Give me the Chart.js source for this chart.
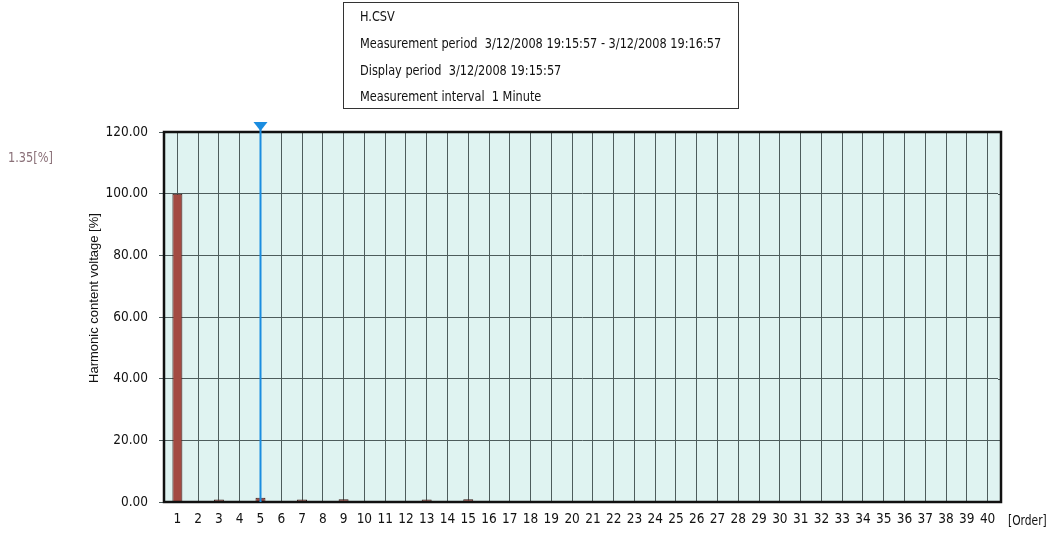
<!DOCTYPE html>
<html>
<head>
<meta charset="utf-8">
<title>Harmonic content voltage</title>
<script src="https://cdn.jsdelivr.net/npm/chart.js@4/dist/chart.umd.min.js"></script>
<style>
  html, body { margin: 0; padding: 0; background: #ffffff; }
  #wrap { width: 1052px; height: 533px; }
</style>
</head>
<body>
<div id="wrap"><canvas id="c" width="1052" height="533"></canvas></div>
<script>
// Harmonic orders 1..40
const orders = ['1','2','3','4','5','6','7','8','9','10','11','12','13','14','15','16','17','18','19','20',
                '21','22','23','24','25','26','27','28','29','30','31','32','33','34','35','36','37','38','39','40'];
// Harmonic content voltage per order [%]
const harmonicPct = [100, 0.05, 0.8, 0.05, 1.35, 0.05, 0.8, 0.05, 0.9, 0.05,
                     0.05, 0.05, 0.8, 0.05, 0.9, 0.05, 0.05, 0.05, 0.05, 0.05,
                     0.05, 0.05, 0.05, 0.05, 0.05, 0.05, 0.05, 0.05, 0.05, 0.05,
                     0.05, 0.05, 0.05, 0.05, 0.05, 0.05, 0.05, 0.05, 0.05, 0.05];
// Y axis ticks
const yTicks = [0, 20, 40, 60, 80, 100, 120];
// Cursor position (order) and its readout
const cursorOrder = '5';
const cursorReadout = '1.35[%]';
// Header box lines
const headerLines = [
  'H.CSV',
  'Measurement period  3/12/2008 19:15:57 - 3/12/2008 19:16:57',
  'Display period  3/12/2008 19:15:57',
  'Measurement interval  1 Minute'
];
const yTitle = 'Harmonic content voltage [%]';
const xUnit = '[Order]';

const NARROW = "'Liberation Sans Narrow', 'Arial Narrow', 'DejaVu Sans Condensed', sans-serif";
const REGULAR = "'Liberation Sans', Arial, sans-serif";
const GRID = '#4d5c5c';
// frame drawn slightly outside the category area
const FRAME_PAD = 3;

// draw text squeezed horizontally (narrow face look)
function narrowText(ctx, text, x, y, sx) {
  ctx.save();
  ctx.translate(x, y);
  ctx.scale(sx, 1);
  ctx.fillText(text, 0, 0);
  ctx.restore();
}

const plotDecor = {
  id: 'plotDecor',
  beforeDraw(chart) {
    const a = chart.chartArea, ctx = chart.ctx;
    ctx.save();
    ctx.fillStyle = '#ffffff';
    ctx.fillRect(0, 0, chart.width, chart.height);
    ctx.fillStyle = '#dff3f1';
    ctx.fillRect(a.left - FRAME_PAD, a.top, a.right - a.left + 2 * FRAME_PAD, a.bottom - a.top);
    ctx.restore();
  },
  beforeDatasetsDraw(chart) {
    // extend horizontal grid lines to the frame edges
    const a = chart.chartArea, ctx = chart.ctx, ys = chart.scales.y;
    ctx.save();
    ctx.strokeStyle = GRID;
    ctx.lineWidth = 1;
    yTicks.forEach(v => {
      const py = Math.round(ys.getPixelForValue(v)) + 0.5;
      ctx.beginPath();
      ctx.moveTo(a.right, py);
      ctx.lineTo(a.right + FRAME_PAD, py);
      ctx.stroke();
    });
    ctx.restore();
  },
  afterDatasetsDraw(chart) {
    const a = chart.chartArea, ctx = chart.ctx;
    const xs = chart.scales.x;
    ctx.save();
    // plot frame
    ctx.strokeStyle = '#111111';
    ctx.lineWidth = 2.5;
    ctx.strokeRect(a.left - FRAME_PAD, a.top, a.right - a.left + 2 * FRAME_PAD, a.bottom - a.top);

    // cursor line with marker
    const cx = Math.round(xs.getPixelForValue(orders.indexOf(cursorOrder))) + 0.5;
    ctx.strokeStyle = '#1a8de0';
    ctx.lineWidth = 2;
    ctx.beginPath();
    ctx.moveTo(cx, a.top - 4);
    ctx.lineTo(cx, a.bottom);
    ctx.stroke();
    ctx.fillStyle = '#1a8de0';
    ctx.beginPath();
    ctx.moveTo(cx - 7, a.top - 10);
    ctx.lineTo(cx + 7, a.top - 10);
    ctx.lineTo(cx, a.top - 1);
    ctx.closePath();
    ctx.fill();
    ctx.restore();
  },
  afterDraw(chart) {
    const ctx = chart.ctx;
    ctx.save();
    ctx.textAlign = 'left';
    ctx.textBaseline = 'middle';

    // cursor readout
    ctx.fillStyle = '#8a7078';
    ctx.font = '14px ' + NARROW;
    narrowText(ctx, cursorReadout, 8, 158, 0.9);

    // y axis title
    ctx.fillStyle = '#111111';
    ctx.font = '13px ' + REGULAR;
    ctx.save();
    ctx.translate(94, 298);
    ctx.rotate(-Math.PI / 2);
    ctx.textAlign = 'center';
    ctx.fillText(yTitle, 0, 0);
    ctx.restore();

    // x unit label
    ctx.font = '14px ' + NARROW;
    narrowText(ctx, xUnit, 1008, 521, 0.85);

    // header box
    ctx.fillStyle = '#ffffff';
    ctx.fillRect(343.5, 2.5, 395, 106);
    ctx.strokeStyle = '#333333';
    ctx.lineWidth = 1;
    ctx.strokeRect(343.5, 2.5, 395, 106);
    ctx.fillStyle = '#111111';
    ctx.font = '14px ' + NARROW;
    const ys = [17, 44, 71, 97];
    headerLines.forEach((t, i) => narrowText(ctx, t, 360, ys[i], 0.9));
    ctx.restore();
  }
};

new Chart(document.getElementById('c'), {
  type: 'bar',
  data: {
    labels: orders,
    datasets: [{
      data: harmonicPct,
      backgroundColor: '#a34a42',
      borderColor: '#3a1c18',
      borderWidth: 1,
      categoryPercentage: 1,
      barPercentage: 0.48,
      minBarLength: 1
    }]
  },
  options: {
    responsive: false,
    animation: false,
    devicePixelRatio: 1,
    layout: { padding: { left: 0, top: 132, right: 54, bottom: 0 } },
    plugins: { legend: { display: false }, tooltip: { enabled: false }, title: { display: false } },
    scales: {
      x: {
        offset: true,
        grid: { offset: false, color: GRID, lineWidth: 1, drawTicks: false },
        border: { display: false },
        ticks: { color: '#111111', font: { family: NARROW, size: 13.5 }, padding: 9, maxRotation: 0, autoSkip: false },
        afterFit(s) { s.height = 31; }
      },
      y: {
        min: 0, max: 120,
        afterBuildTicks(s) { s.ticks = yTicks.map(v => ({ value: v })); },
        grid: { color: GRID, lineWidth: 1, tickLength: 8, drawTicks: true },
        border: { display: false },
        ticks: { color: '#111111', font: { family: NARROW, size: 13.5 }, padding: 11,
                 callback: v => Number(v).toFixed(2) },
        afterFit(s) { s.width = 167; }
      }
    }
  },
  plugins: [plotDecor]
});
</script>
</body>
</html>
